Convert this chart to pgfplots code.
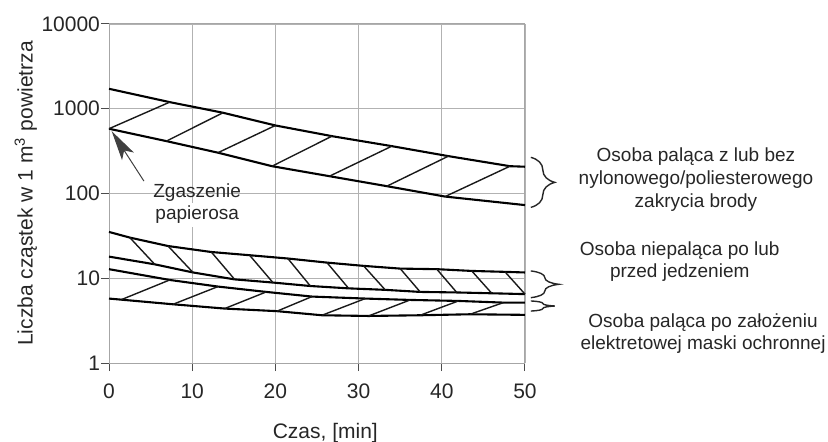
\documentclass[border=0pt]{standalone}
\usepackage{fontspec}
\setmainfont{Liberation Sans}
\usepackage{pgfplots}
\pgfplotsset{compat=1.18}
\usetikzlibrary{decorations.pathreplacing, arrows.meta}
\begin{document}
\begin{tikzpicture}
\useasboundingbox (-54.5pt,-39pt) rectangle (359.5pt,181.5pt);
\begin{axis}[
  at={(0,0)}, anchor=south west,
  scale only axis, width=208pt, height=169.5pt,
  xmin=0, xmax=50, ymin=1, ymax=10000, ymode=log,
  xtick={0,10,20,30,40,50},
  ytick={1,10,100,1000,10000}, yticklabels={1,10,100,1000,10000},
  yminorticks=false,
  clip=false,
  axis line style={gray!70, line width=0.5pt},
  grid=major, grid style={gray!60, line width=0.45pt},
  tick align=outside, tick pos=left, major tick length=4pt,
  tick style={black!70, line width=0.5pt},
  /pgf/number format/assume math mode=true,
  ticklabel style={font=\fontsize{10.5}{12}\selectfont, text=black!85},
  xticklabel style={yshift=-3pt},
  yticklabel style={xshift=3pt},
  xlabel={Czas, [min]},
  ylabel={Liczba cząstek w 1 m\textsuperscript{3} powietrza},
  label style={font=\fontsize{10.5}{12}\selectfont, text=black!85},
  xlabel style={at={(axis description cs:0.52,-0.207)}, anchor=center},
  ylabel style={at={(axis description cs:-0.2,0.5)}, anchor=center, rotate=0},
  curve/.style={black, line width=1.05pt},
  hatch/.style={black!90, line width=0.7pt},
]
% upper band (smoker with/without beard cover)
\addplot[curve] coordinates {(0,1720) (7.3,1197) (13.7,897) (20,635) (26.8,475) (34,362) (40.8,276) (48.2,210) (50,207)};
\addplot[curve] coordinates {(0,581) (6.9,415) (13.1,303) (19.6,210) (26.5,160) (33.4,122) (40.4,92) (50,73)};
\addplot[hatch] coordinates {(0,581) (7.3,1197)};
\addplot[hatch] coordinates {(6.9,415) (13.7,897)};
\addplot[hatch] coordinates {(13.1,303) (20,635)};
\addplot[hatch] coordinates {(19.6,210) (26.8,475)};
\addplot[hatch] coordinates {(26.5,160) (34,362)};
\addplot[hatch] coordinates {(33.4,122) (40.8,276)};
\addplot[hatch] coordinates {(40.4,92) (48.2,210)};
% non-smoker band
\addplot[curve] coordinates {(0,35.2) (2.5,30.2) (7.1,24) (12.3,20.4) (16.9,18.7) (21.5,17.1) (26.2,15.3) (30.6,14) (35,13) (39.4,12.8) (43.6,12.2) (47.6,11.9) (50,11.7)};
\addplot[curve] coordinates {(0,18) (5.5,14.6) (10.1,11.7) (15.1,9.7) (19.7,8.9) (24.2,8.1) (28.8,7.6) (33.2,7.3) (37.4,6.9) (41.8,6.8) (46,6.65) (50,6.5)};
\addplot[hatch] coordinates {(2.5,30.2) (5.5,14.6)};
\addplot[hatch] coordinates {(7.1,24) (10.1,11.7)};
\addplot[hatch] coordinates {(12.3,20.4) (15.1,9.7)};
\addplot[hatch] coordinates {(16.9,18.7) (19.7,8.9)};
\addplot[hatch] coordinates {(21.5,17.1) (24.2,8.1)};
\addplot[hatch] coordinates {(26.2,15.3) (28.8,7.6)};
\addplot[hatch] coordinates {(30.6,14) (33.2,7.3)};
\addplot[hatch] coordinates {(35,13) (37.4,6.9)};
\addplot[hatch] coordinates {(39.4,12.8) (41.8,6.8)};
\addplot[hatch] coordinates {(43.6,12.2) (46,6.65)};
\addplot[hatch] coordinates {(47.6,11.9) (50,6.5)};
% electret mask band
\addplot[curve] coordinates {(0,12.8) (7.3,9.55) (13.1,7.98) (18.9,6.9) (24.4,6.08) (30.8,5.76) (36.2,5.55) (42,5.4) (47.4,5.16) (50,5.15)};
\addplot[curve] coordinates {(0,5.76) (7.7,4.93) (13.9,4.39) (20.2,4.09) (25.6,3.66) (31.2,3.59) (37.4,3.66) (43.4,3.76) (50,3.7)};
\addplot[hatch] coordinates {(1.5,5.6) (7.3,9.55)};
\addplot[hatch] coordinates {(7.7,4.93) (13.1,7.98)};
\addplot[hatch] coordinates {(13.9,4.39) (18.9,6.9)};
\addplot[hatch] coordinates {(20.2,4.09) (24.4,6.08)};
\addplot[hatch] coordinates {(25.6,3.66) (30.8,5.76)};
\addplot[hatch] coordinates {(31.2,3.59) (36.2,5.55)};
\addplot[hatch] coordinates {(37.4,3.66) (42,5.4)};
\addplot[hatch] coordinates {(43.4,3.76) (47.4,5.16)};
% annotation arrow
\draw[black!75, line width=0.5pt, -{Stealth[length=15pt, width=7pt, inset=3.5pt]}] (axis cs:4.2,140) -- (axis cs:0.32,545);
\node[font=\fontsize{9.5}{11}\selectfont, text=black!85, inner sep=1pt] at (axis cs:10.6,103) {Zgaszenie};
\node[font=\fontsize{9.5}{11}\selectfont, text=black!85, fill=white, inner sep=1.5pt] at (axis cs:10.6,56) {papierosa};
% braces
\draw[black!85, line width=0.7pt, decorate, decoration={brace, amplitude=12pt}] (axis cs:50.7,267) -- (axis cs:50.7,68.6);
\draw[black!85, line width=0.7pt, decorate, decoration={brace, amplitude=14pt}] (axis cs:50.7,12.2) -- (axis cs:50.7,5.9);
\draw[black!85, line width=0.7pt, decorate, decoration={brace, amplitude=12pt}] (axis cs:50.7,5.4) -- (axis cs:50.7,4.1);
% right-hand labels
\node[font=\fontsize{9.5}{11.5}\selectfont, text=black!85, align=center] at (axis cs:70.55,146.6) {Osoba paląca z lub bez\\nylonowego/poliesterowego\\zakrycia brody};
\node[font=\fontsize{9.5}{11}\selectfont, text=black!85, align=center] at (axis cs:68.6,15.7) {Osoba niepaląca po lub\\przed jedzeniem};
\node[font=\fontsize{9.5}{11}\selectfont, text=black!85, align=center] at (axis cs:71.4,2.24) {Osoba paląca po założeniu\\elektretowej maski ochronnej};
\end{axis}
\end{tikzpicture}
\end{document}
